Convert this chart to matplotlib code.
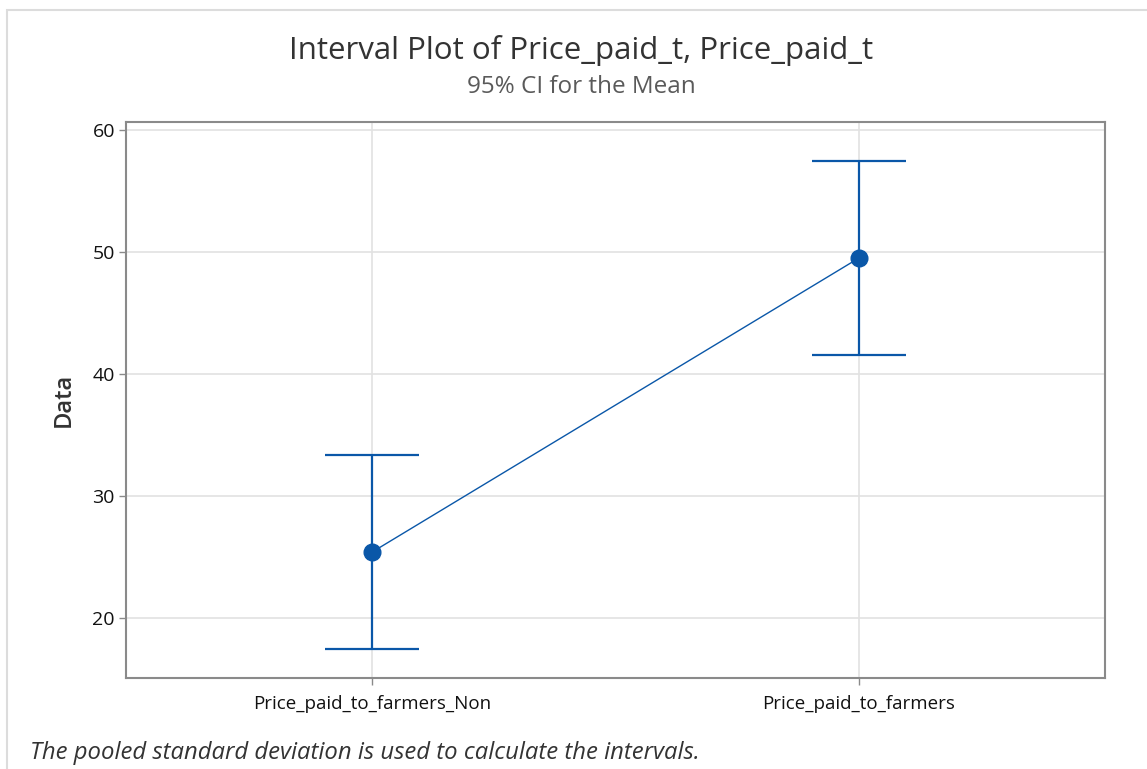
import numpy as np
import matplotlib
matplotlib.use("Agg")
import matplotlib.pyplot as plt
from matplotlib.patches import Rectangle

# data
categories = ["Price_paid_to_farmers_Non", "Price_paid_to_farmers"]
means = [25.37, 49.50]
ci_lower = [17.40, 41.50]
ci_upper = [33.35, 57.45]
y_ticks = [20, 30, 40, 50, 60]

blue = "#0a57a8"
plt.rcParams['font.family'] = ['Open Sans', 'DejaVu Sans']

fig = plt.figure(figsize=(11.47, 7.69), dpi=100)
ax = fig.add_axes([126 / 1147, 1 - 678 / 769, (1105 - 126) / 1147, (678 - 122) / 769])

# light frame around the whole graph window
fig.patches.append(Rectangle((7 / 1147, -0.01), 1.0, 1 - 10 / 769 + 0.01,
                             transform=fig.transFigure, fill=False,
                             edgecolor="#dcdcdc", linewidth=1.5))

x = np.arange(len(categories))
means = np.array(means)
err = [means - np.array(ci_lower), np.array(ci_upper) - means]

ax.plot(x, means, color=blue, linewidth=1.0, zorder=3)
ax.errorbar(x, means, yerr=err, fmt="o", color=blue, ecolor=blue,
            elinewidth=1.6, capsize=34, capthick=1.6, markersize=12, zorder=4)

ax.set_xlim(-0.505, 1.505)
ax.set_ylim(15.05, 60.65)
ax.set_xticks(x)
ax.set_xticklabels(categories, fontsize=13.5, color="#111111", fontweight="medium")
ax.set_yticks(y_ticks)
ax.set_yticklabels([str(t) for t in y_ticks], fontsize=14, color="#111111",
                   fontweight="medium")
ax.tick_params(axis="both", length=5, width=1, color="#8a8a8a")
ax.tick_params(axis="x", pad=7)
ax.tick_params(axis="y", pad=3)

ax.grid(True, color="#e2e2e2", linewidth=1.2)
ax.set_axisbelow(True)
for s in ax.spines.values():
    s.set_color("#8a8a8a")
    s.set_linewidth(1.5)

ax.set_ylabel("Data", fontsize=17, color="#333333", fontweight="semibold", labelpad=12)

fig.text(0.507, 1 - 50 / 769, "Interval Plot of Price_paid_t, Price_paid_t",
         ha="center", va="center", fontsize=22.5, color="#333333")
fig.text(0.507, 1 - 87 / 769, "95% CI for the Mean",
         ha="center", va="center", fontsize=17.5, color="#5a5a5a")
fig.text(30 / 1147, 1 - 753 / 769,
         "The pooled standard deviation is used to calculate the intervals.",
         ha="left", va="center", fontsize=17.2, style="italic", color="#333333")

fig.savefig("out.png", dpi=100)
